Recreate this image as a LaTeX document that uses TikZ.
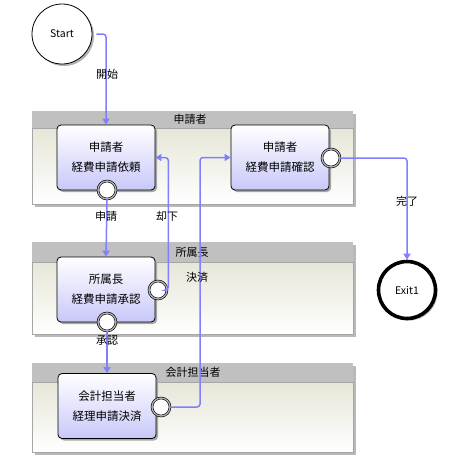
\documentclass[tikz,border=0pt]{standalone}
\usepackage{fontspec}
\setmainfont{Noto Sans CJK JP}
\usetikzlibrary{arrows.meta,shadows}
\definecolor{flow}{RGB}{128,128,255}
\definecolor{hdr}{RGB}{192,192,192}
\definecolor{lanetop}{RGB}{230,230,216}
\definecolor{taskbot}{RGB}{200,200,250}
\tikzset{
  lanebody/.style={draw=gray!70, line width=0.5pt, top color=lanetop, bottom color=white},
  laneshadow/.style={fill=gray!55},
  lanehdr/.style={fill=hdr},
  lanetitle/.style={font=\fontsize{11}{13}\selectfont, inner sep=0pt},
  task/.style={draw=black, line width=0.8pt, rounded corners=4pt, minimum width=98pt, minimum height=65pt,
    top color=white, bottom color=taskbot, align=center, font=\fontsize{11.5}{20}\selectfont,
    drop shadow={shadow xshift=2pt, shadow yshift=-2pt, fill=gray!70, opacity=1}},
  gw/.style={circle, draw=black, double=gray!60, double distance=1.3pt, line width=0.6pt, fill=white, minimum size=18pt, inner sep=0pt},
  terminal/.style={circle, draw=black, fill=white, minimum size=60pt, inner sep=0pt, font=\fontsize{10.5}{12}\selectfont,
    drop shadow={shadow xshift=2pt, shadow yshift=-2pt, fill=gray!60, opacity=1}},
  flowline/.style={draw=flow, line width=1.5pt, rounded corners=3pt, -{Triangle[width=7pt,length=6pt]}},
  flowlabel/.style={font=\fontsize{11}{13}\selectfont, inner sep=0pt},
}
\begin{document}
\begin{tikzpicture}[x=1pt,y=-1pt]
\useasboundingbox (0,0) rectangle (468,456);
\fill[white] (0,0) rectangle (468,456);
% lanes
\foreach \top/\hb/\bot in {111/128/204, 242/262/334, 363/382/452}{
  \fill[laneshadow] (35,\top+3) rectangle (356,\bot+3);
  \path[lanebody] (32,\hb) rectangle (353,\bot);
  \fill[lanehdr] (32,\top) rectangle (353,\hb);
}
\node[lanetitle] (l1) at (190,119.5) {申請者};
\node[lanetitle] (l2) at (192,252) {所属長};
\node[lanetitle] (l3) at (193,372.5) {会計担当者};
% terminals
\node[terminal, line width=0.8pt] (start) at (62,34) {Start};
\node[terminal, line width=3.6pt, minimum size=57pt] (exit) at (407,290) {Exit1};
% tasks
\node[task] (t1) at (106,157.5) {申請者\\経費申請依頼};
\node[task] (t2) at (280,157.5) {申請者\\経費申請確認};
\node[task] (t3) at (106,289.5) {所属長\\経費申請承認};
\node[task] (t4) at (107,406) {会計担当者\\経理申請決済};
% gateways
\node[gw] (g1) at (107,190) {};
\node[gw] (g2) at (331,158) {};
\node[gw] (g3b) at (107,322) {};
\node[gw] (g3r) at (158,290) {};
\node[gw] (g4) at (161,407) {};
\coordinate (kx) at (200,0);
% connectors
\draw[flowline] (start.east) ++(4,0) -| (t1.north);
\draw[flowline] (g1.south) -- (t3.north);
\draw[flowline] (g3r.east) -- ++(1,0) |- (t1.east);
\draw[flowline] (g3b.south) -- (t4.north);
\draw[flowline] (g4.east) -| (kx |- t2.west) -- (t2.west);
\draw[flowline] (g2.east) -| (exit.north);
% labels
\node[flowlabel] (lb1) at (107,74) {開始};
\node[flowlabel] (lb2) at (106,216) {申請};
\node[flowlabel] (lb3) at (167,216) {却下};
\node[flowlabel] (lb4) at (197,277) {決済};
\node[flowlabel] (lb5) at (107,341) {承認};
\node[flowlabel] (lb6) at (407,201) {完了};
\end{tikzpicture}
\end{document}
